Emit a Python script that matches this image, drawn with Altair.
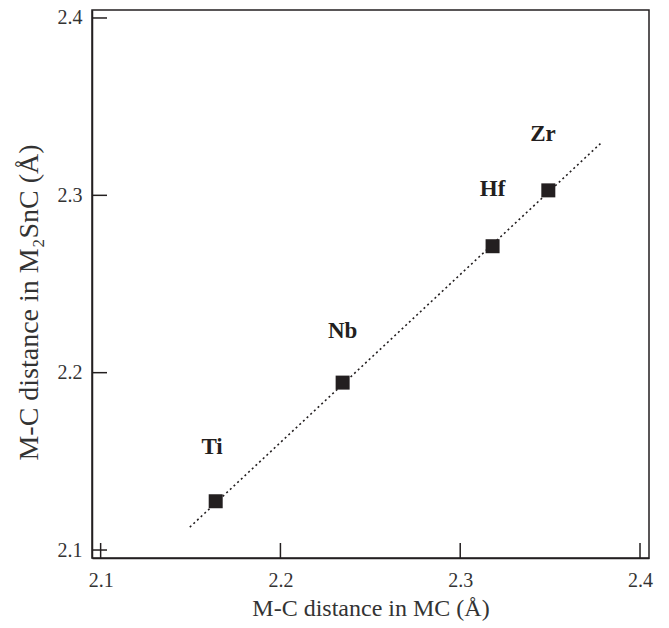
import altair as alt
import pandas as pd

elements = ["Ti", "Nb", "Hf", "Zr"]
mc_dist = [2.164, 2.2346, 2.318, 2.349]
m2snc_dist = [2.1275, 2.1944, 2.2713, 2.3028]
label_x = [2.162, 2.2346, 2.318, 2.346]
label_y = [2.158, 2.2236, 2.3034, 2.3343]
fit_x = [2.1496, 2.378]
fit_y = [2.1129, 2.3292]
tick_values = [2.1, 2.2, 2.3, 2.4]

W, H = 557, 548
FONT = "Liberation Serif"
INK = "#231f20"

pts = pd.DataFrame({"el": elements, "x": mc_dist, "y": m2snc_dist,
                    "lx": label_x, "ly": label_y})
fit = pd.DataFrame({"x": fit_x, "y": fit_y})
ticks = pd.DataFrame({"v": tick_values})

xs = alt.Scale(domain=[2.0952, 2.405], nice=False, zero=False)
ys = alt.Scale(domain=[2.0955, 2.4045], nice=False, zero=False)

xaxis = alt.Axis(values=tick_values, format=".1f", tickSize=0, labelPadding=12,
                 title="M-C distance in MC (Å)", titlePadding=6, titleFontSize=24,
                 grid=False)
yaxis = alt.Axis(values=tick_values, format=".1f", tickSize=0, labelPadding=10,
                 title="M-C distance in M₂SnC (Å)", titlePadding=14, titleFontSize=28,
                 titleY=292, grid=False)

line = alt.Chart(fit).mark_line(strokeDash=[2, 3], strokeWidth=1.6, color=INK).encode(
    x=alt.X("x:Q", scale=xs, axis=xaxis),
    y=alt.Y("y:Q", scale=ys, axis=yaxis),
)

squares = alt.Chart(pts).mark_square(size=196, opacity=1, color=INK).encode(
    x=alt.X("x:Q", scale=xs),
    y=alt.Y("y:Q", scale=ys),
)

labels = alt.Chart(pts).mark_text(font=FONT, fontSize=23, fontWeight="bold",
                                  color=INK, baseline="middle", align="center").encode(
    x=alt.X("lx:Q", scale=xs),
    y=alt.Y("ly:Q", scale=ys),
    text="el:N",
)

xticks = alt.Chart(ticks).mark_rule(color=INK, strokeWidth=1.5).encode(
    x=alt.X("v:Q", scale=xs),
    y=alt.value(H),
    y2=alt.value(H - 15),
)

yticks = alt.Chart(ticks).mark_rule(color=INK, strokeWidth=1.5).encode(
    y=alt.Y("v:Q", scale=ys),
    x=alt.value(0),
    x2=alt.value(15),
)

chart = alt.layer(line, xticks, yticks, squares, labels).properties(
    width=W, height=H,
    autosize=alt.AutoSizeParams(type="none"),
    padding={"left": 84, "top": 2, "right": 12, "bottom": 70},
).configure_view(
    stroke=INK, strokeWidth=1.5
).configure_axis(
    domainColor=INK, domainWidth=1.5,
    labelFont=FONT, labelFontSize=20, labelColor="#333333",
    titleFont=FONT, titleColor="#333333", titleFontWeight="normal",
)

chart.save("out.html", embed_options={"renderer": "svg", "actions": False})
